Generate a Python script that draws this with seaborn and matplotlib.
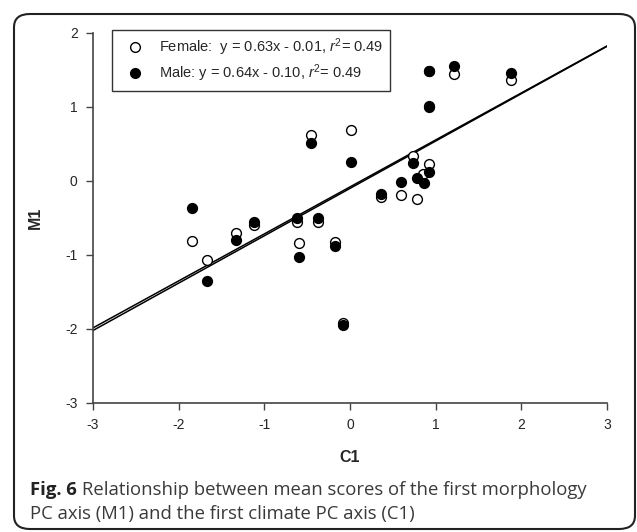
import numpy as np
import pandas as pd
import matplotlib
matplotlib.use("Agg")
import matplotlib.pyplot as plt
import seaborn as sns
from matplotlib.patches import FancyBboxPatch
from matplotlib.lines import Line2D

# ---- data ----
female_c1 = [-1.84, -1.67, -1.33, -1.12, -0.62, -0.59, -0.46, -0.37, -0.18, -0.08, 0.01,
             0.36, 0.59, 0.74, 0.78, 0.85, 0.92, 0.92, 0.92, 1.21, 1.88]
female_m1 = [-0.81, -1.07, -0.70, -0.60, -0.55, -0.84, 0.62, -0.55, -0.83, -1.92, 0.69,
             -0.21, -0.19, 0.34, -0.24, 0.09, 0.23, 1.02, 1.48, 1.44, 1.36]
male_c1 = [-1.84, -1.67, -1.33, -1.12, -0.62, -0.59, -0.46, -0.37, -0.18, -0.08, 0.01,
           0.36, 0.59, 0.74, 0.78, 0.86, 0.92, 0.92, 0.92, 1.21, 1.88]
male_m1 = [-0.37, -1.35, -0.80, -0.55, -0.50, -1.03, 0.51, -0.50, -0.88, -1.95, 0.26,
           -0.18, -0.01, 0.24, 0.04, -0.03, 0.12, 1.00, 1.49, 1.56, 1.46]

# regression lines as drawn (slope, intercept)
female_fit = (0.635, -0.08)
male_fit = (0.64, -0.10)
line_x = [-3, 3]

legend_labels = ["Female:  y = 0.63x - 0.01, $r^2$= 0.49",
                 "Male: y = 0.64x - 0.10, $r^2$= 0.49"]
x_ticks = [-3, -2, -1, 0, 1, 2, 3]
y_ticks = [-3, -2, -1, 0, 1, 2]
caption_bold = "Fig. 6"
caption_line1 = "Relationship between mean scores of the first morphology"
caption_line2 = "PC axis (M1) and the first climate PC axis (C1)"

df = pd.DataFrame({
    "C1": female_c1 + male_c1,
    "M1": female_m1 + male_m1,
    "Sex": ["Female"] * len(female_c1) + ["Male"] * len(male_c1),
})

sns.set_style("ticks")
plt.rcParams["font.family"] = ["Liberation Sans", "DejaVu Sans"]
plt.rcParams["mathtext.fontset"] = "custom"
plt.rcParams["mathtext.rm"] = "Liberation Sans"
plt.rcParams["mathtext.it"] = "Liberation Sans:italic"

fig = plt.figure(figsize=(6.37, 5.32), dpi=100)
ax = fig.add_axes([93 / 637, 1 - 403 / 532, (607 - 93) / 637, (403 - 33) / 532])

# regression lines
lx = np.array(line_x, dtype=float)
ax.plot(lx, female_fit[0] * lx + female_fit[1], color="black", lw=1.1, zorder=2)
ax.plot(lx, male_fit[0] * lx + male_fit[1], color="black", lw=1.1, zorder=2)

sns.scatterplot(data=df[df.Sex == "Female"], x="C1", y="M1", ax=ax, s=50,
                color="white", edgecolor="black", linewidth=1.0, zorder=3, legend=False)
sns.scatterplot(data=df[df.Sex == "Male"], x="C1", y="M1", ax=ax, s=50,
                color="black", edgecolor="black", linewidth=1.0, zorder=4, legend=False)

ax.set_xlim(-3, 3)
ax.set_ylim(-3, 2)
ax.set_xticks(x_ticks)
ax.set_yticks(y_ticks)
ax.set_xticklabels([str(t) for t in x_ticks])
ax.set_yticklabels([str(t) for t in y_ticks])
ax.tick_params(direction="out", length=5, width=1, color="#444444", labelsize=10, pad=6)
for side in ["top", "right"]:
    ax.spines[side].set_visible(False)
for side in ["left", "bottom"]:
    ax.spines[side].set_color("#444444")
    ax.spines[side].set_linewidth(1.2)

ax.set_xlabel("C1", fontsize=11.5, fontweight="bold", labelpad=13)
ax.set_ylabel("M1", fontsize=11.5, fontweight="bold", labelpad=16)

handles = [
    Line2D([], [], marker="o", linestyle="none", markerfacecolor="white",
           markeredgecolor="black", markersize=7),
    Line2D([], [], marker="o", linestyle="none", markerfacecolor="black",
           markeredgecolor="black", markersize=7),
]
leg = ax.legend(handles, legend_labels, loc="upper left",
                bbox_to_anchor=(112 / 637, 1 - 30 / 532), bbox_transform=fig.transFigure,
                frameon=True, fancybox=False, edgecolor="black", fontsize=10.5,
                handletextpad=0.6, borderpad=0.45, labelspacing=0.3, borderaxespad=0,
                handlelength=2.2)
leg.get_frame().set_linewidth(1.0)

# outer rounded frame
frame = FancyBboxPatch((14 / 637, 3 / 532), (621 / 637), (515 / 532),
                       boxstyle="round,pad=0,rounding_size=0.025",
                       transform=fig.transFigure, fill=False, edgecolor="#222222",
                       linewidth=1.5)
fig.patches.append(frame)

# caption
cap_fs = 13.3
t1 = fig.text(30 / 637, 1 - 490 / 532, caption_bold, fontsize=cap_fs, fontweight="bold",
              family=["Open Sans", "DejaVu Sans"], color="#222222", va="center", ha="left")
fig.canvas.draw()
bb = t1.get_window_extent(renderer=fig.canvas.get_renderer())
fig.text((bb.x1 + 5) / 637, 1 - 490 / 532, caption_line1, fontsize=cap_fs,
         family=["Open Sans", "DejaVu Sans"], color="#3a3a3a", va="center", ha="left")
fig.text(30 / 637, 1 - 514 / 532, caption_line2, fontsize=cap_fs,
         family=["Open Sans", "DejaVu Sans"], color="#3a3a3a", va="center", ha="left")

fig.savefig("out.png", dpi=100)
